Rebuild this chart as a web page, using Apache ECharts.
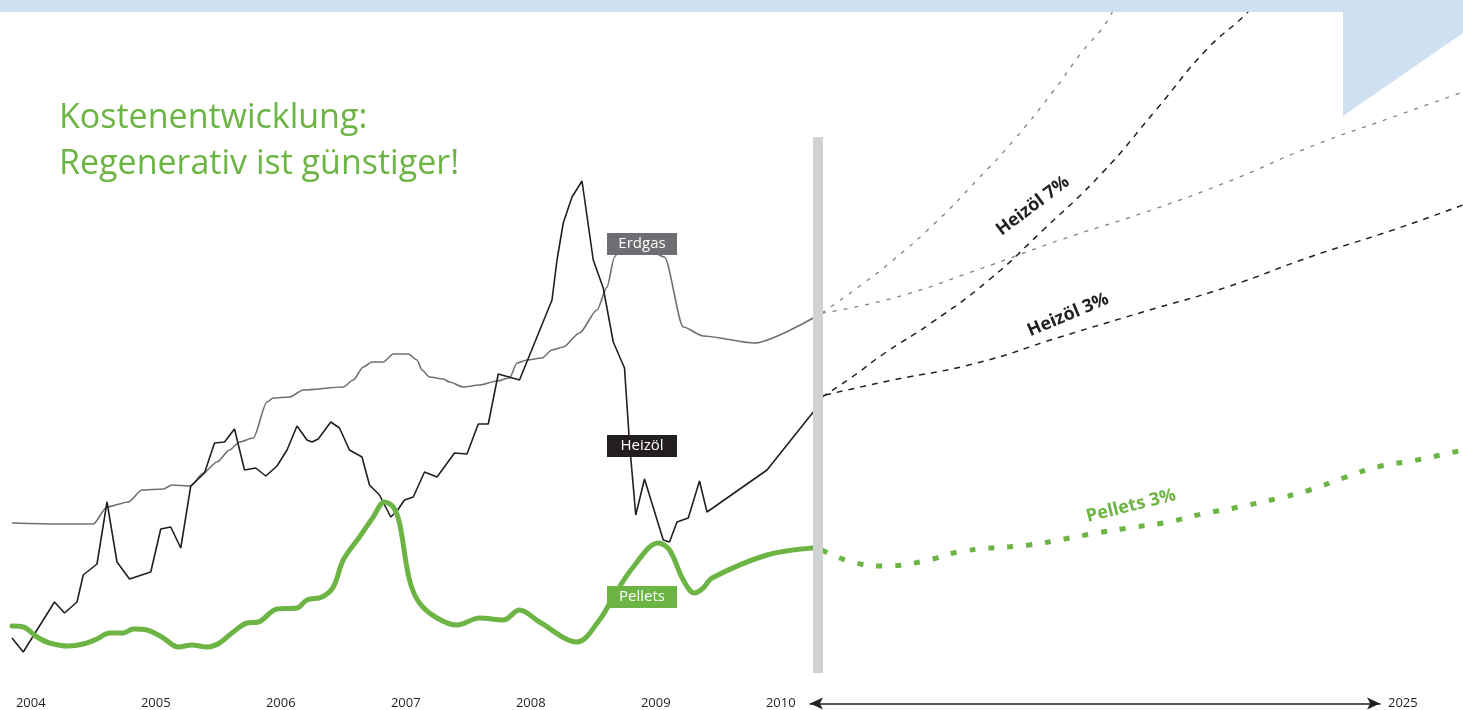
<!DOCTYPE html>
<html>
<head>
<meta charset="utf-8">
<script src="https://cdn.jsdelivr.net/npm/echarts@6/dist/echarts.min.js"></script>
<style>
html,body{margin:0;padding:0;background:#fff;}
#chart{width:1463px;height:710px;}
</style>
</head>
<body>
<div id="chart"></div>
<script>
// ---------- DATA (price index) ----------
const yearTicks = [2004, 2005, 2006, 2007, 2008, 2009, 2010];

const erdgasX = [2003.85,2004.23,2004.50,2004.61,2004.78,2004.89,2005.06,2005.13,2005.28,2005.38,2005.49,2005.59,2005.67,2005.78,2005.89,2005.94,2006.07,2006.18,2006.50,2006.58,2006.66,2006.73,2006.82,2006.90,2007.02,2007.09,2007.13,2007.19,2007.30,2007.35,2007.46,2007.59,2007.73,2007.83,2007.89,2007.97,2008.09,2008.17,2008.26,2008.39,2008.53,2008.61,2008.67,2008.72,2008.87,2009.07,2009.22,2009.38,2009.79,2010.26];
const erdgas  = [33.4,33.2,33.2,36.6,37.6,40,40.2,41,40.8,43.4,45.6,48,49.6,50.4,57.6,58.4,58.6,60,60.6,62,64.6,65.6,65.6,67.2,67.2,66,64,62.6,62.2,61.6,60.6,61,61.8,62.4,65.4,66,66.4,68,68.6,71.4,76,80.6,86.6,88.6,89.4,86.6,72.6,70.8,69.4,74.4];

const heizoelX = [2003.85,2003.94,2004.19,2004.27,2004.37,2004.42,2004.53,2004.61,2004.69,2004.79,2004.96,2005.04,2005.12,2005.20,2005.28,2005.39,2005.47,2005.55,2005.63,2005.71,2005.80,2005.88,2005.97,2006.05,2006.13,2006.21,2006.25,2006.30,2006.40,2006.47,2006.55,2006.65,2006.71,2006.79,2006.88,2006.93,2006.99,2007.06,2007.15,2007.25,2007.39,2007.49,2007.58,2007.66,2007.74,2007.91,2008.17,2008.21,2008.26,2008.33,2008.41,2008.50,2008.58,2008.66,2008.75,2008.79,2008.84,2008.91,2009.06,2009.11,2009.17,2009.26,2009.35,2009.41,2009.89,2010.26];
const heizoel  = [10.4,7.6,17.6,15.4,17.6,23,25.2,37.6,25.6,22.2,23.6,32.2,32.6,28.4,40.8,43.4,49.4,49.6,52.2,44,44.4,42.8,44.8,48,52.8,50,49.6,50.2,53.6,52.4,48,46.6,41,39,34.6,35.8,38,38.6,43.6,42.6,47.4,47.2,53.2,53.2,63.2,62,78,86,93.4,98.6,101.8,86,80.4,69.6,64.4,49.4,35,42.2,30,29.6,33.6,34.4,41.8,35.6,44,55.6];

const pelletsX = [2003.85,2003.94,2004.05,2004.15,2004.30,2004.42,2004.53,2004.63,2004.74,2004.82,2004.93,2005.06,2005.18,2005.29,2005.41,2005.51,2005.62,2005.73,2005.82,2005.97,2006.13,2006.21,2006.33,2006.42,2006.50,2006.63,2006.74,2006.83,2006.90,2006.95,2007.03,2007.11,2007.25,2007.41,2007.59,2007.78,2007.91,2008.07,2008.37,2008.55,2008.66,2008.82,2009.02,2009.11,2009.22,2009.31,2009.38,2009.45,2009.89,2010.26];
const pellets  = [12.8,12.6,10.6,9.4,8.8,9.2,10.2,11.4,11.4,12.2,12,10.4,8.6,9,8.6,9.4,11.6,13.4,13.6,16.2,16.4,18,18.6,20.6,26,30.6,34.6,37.6,36.6,33.4,22,17.4,14.4,13,14.4,14,16,13.6,9.6,14,18.6,24.6,29.4,28,22,19.4,20.4,22.4,27,28.4];

// projections 2010 -> 2025
const heiz7X = [2010.40,2011.16,2011.99,2013.16,2014.62,2015.99,2017.48,2018.84,2020.11,2021.14,2021.37];
const heiz7  = [58.6,62.6,67.4,73.4,82,92,103.4,116,128,135.4,138];
const heiz3X = [2010.48,2012.20,2014.32,2016.42,2018.51,2020.64,2022.73,2024.83,2026.60];
const heiz3  = [59,62,65.4,70.6,75.6,80.6,86.6,92,97];
const gas7X  = [2010.40,2011.46,2012.20,2013.26,2014.32,2015.25,2016.21,2016.95,2017.63,2017.83];
const gas7   = [75.4,81.4,86,93.4,102,110,119.4,127.4,134,138];
const gas3X  = [2010.40,2012.20,2014.32,2016.42,2018.51,2020.64,2022.73,2024.83,2026.60];
const gas3   = [75.4,78.4,84,90,95.4,101.6,108.6,114.6,119.6];
const pel3X  = [2010.40,2011.16,2011.94,2012.88,2013.99,2015.63,2016.52,2017.35,2018.31,2019.15,2020.00,2020.94,2021.85,2022.73,2023.57,2024.53,2025.31,2026.60];
const pel3   = [28,25.6,24.8,25.6,27.8,29,30.2,31.4,32.6,33.6,35.2,36.6,38.2,40,42.4,44.8,45.8,48];

// series name tags (position in data space)
const tagNames = ['Erdgas', 'Heizöl', 'Pellets'];
const tagX = [2008.89, 2008.89, 2008.89];
const tagY = [89.2, 48.8, 18.6];
// projection captions
const projNames = ['Heizöl 7%', 'Heizöl 3%', 'Pellets 3%'];
const projX = [2015.73, 2016.62, 2018.21];
const projY = [96.8, 75, 36.8];
const projAngle = [37, 23, 14];

// ---------- STYLE ----------
const GREEN = '#6cb444', BLACK = '#231f20', GRAY = '#6d6e71', BLUE = '#cfe0f0';
const FONT = '"Open Sans", "Noto Sans", sans-serif';
const zip = (xs, ys) => xs.map((x, i) => [x, ys[i]]);

const chart = echarts.init(document.getElementById('chart'), null, {renderer: 'canvas'});
const yAx = (gi) => ({type: 'value', gridIndex: gi, min: 0, max: 138, show: false});

const option = {
  animation: false,
  backgroundColor: '#fff',
  title: {
    text: 'Kostenentwicklung:\nRegenerativ ist günstiger!',
    left: 54, top: 90,
    textStyle: {color: GREEN, fontSize: 34, lineHeight: 46, fontWeight: 'normal', fontFamily: FONT}
  },
  grid: [
    {left: 12, right: 1463 - 818, top: 0, bottom: 20},
    {left: 818, right: 0, top: 0, bottom: 20},
    {left: 810, right: 83, top: 703, bottom: 6}
  ],
  xAxis: [
    {type: 'value', gridIndex: 0, min: 2003.85, max: 2010.298,
     axisLine: {show: false}, axisTick: {show: false}, splitLine: {show: false},
     axisLabel: {customValues: yearTicks, formatter: v => String(v), color: BLACK, fontSize: 13, fontFamily: FONT, margin: 7}},
    {type: 'value', gridIndex: 1, min: 2010.3, max: 2026.6, show: false},
    {type: 'value', gridIndex: 2, min: 2010, max: 2025, position: 'bottom',
     axisLine: {show: true, lineStyle: {color: BLACK, width: 1.5}, symbol: ['arrow', 'arrow'], symbolSize: [9, 13]},
     axisTick: {show: false}, axisLabel: {show: false}, splitLine: {show: false},
     name: '2025', nameLocation: 'end', nameGap: 8,
     nameTextStyle: {color: BLACK, fontSize: 13, fontFamily: FONT}}
  ],
  yAxis: [yAx(0), yAx(1), yAx(2)],
  series: [
    {name: 'Erdgas', type: 'line', xAxisIndex: 0, yAxisIndex: 0, data: zip(erdgasX, erdgas),
     showSymbol: false, smooth: 0.25, smoothMonotone: 'x', lineStyle: {color: '#707072', width: 1.6}, z: 2},
    {name: 'Heizöl', type: 'line', xAxisIndex: 0, yAxisIndex: 0, data: zip(heizoelX, heizoel),
     showSymbol: false, lineStyle: {color: BLACK, width: 1.6}, z: 3},
    {name: 'Pellets', type: 'line', xAxisIndex: 0, yAxisIndex: 0, data: zip(pelletsX, pellets),
     showSymbol: false, smooth: 0.35, lineStyle: {color: GREEN, width: 5, cap: 'round', join: 'round'}, z: 4},

    {name: 'Erdgas 7%', type: 'line', xAxisIndex: 1, yAxisIndex: 1, data: zip(gas7X, gas7),
     showSymbol: false, smooth: true, lineStyle: {color: '#808082', width: 1.3, type: [4, 7]}},
    {name: 'Erdgas 3%', type: 'line', xAxisIndex: 1, yAxisIndex: 1, data: zip(gas3X, gas3),
     showSymbol: false, smooth: true, lineStyle: {color: '#808082', width: 1.3, type: [4, 7]}},
    {name: 'Heizöl 7%', type: 'line', xAxisIndex: 1, yAxisIndex: 1, data: zip(heiz7X, heiz7),
     showSymbol: false, smooth: true, lineStyle: {color: BLACK, width: 1.5, type: [6, 6]}},
    {name: 'Heizöl 3%', type: 'line', xAxisIndex: 1, yAxisIndex: 1, data: zip(heiz3X, heiz3),
     showSymbol: false, smooth: true, lineStyle: {color: BLACK, width: 1.5, type: [6, 6]}},
    {name: 'Pellets 3%', type: 'line', xAxisIndex: 1, yAxisIndex: 1, data: zip(pel3X, pel3),
     showSymbol: false, smooth: true, lineStyle: {color: GREEN, width: 5, type: [6, 13], cap: 'butt'}},

    {type: 'scatter', xAxisIndex: 0, yAxisIndex: 0, z: 10, symbol: 'rect', symbolSize: [70, 22], silent: true,
     itemStyle: {opacity: 1},
     data: tagNames.map((n, i) => ({value: [tagX[i], tagY[i]], name: n,
       itemStyle: {color: [GRAY, BLACK, GREEN][i], opacity: 1}})),
     label: {show: true, position: 'inside', formatter: p => p.name, color: '#fff', opacity: 1, fontSize: 15, fontFamily: FONT}},
    {type: 'scatter', xAxisIndex: 1, yAxisIndex: 1, z: 10, symbolSize: 0, silent: true,
     itemStyle: {opacity: 1},
     data: projNames.map((n, i) => ({value: [projX[i], projY[i]], name: n,
       label: {rotate: projAngle[i], color: i === 2 ? GREEN : BLACK}})),
     label: {show: true, position: 'inside', formatter: p => p.name, opacity: 1, fontSize: 18, fontWeight: 'bold', fontFamily: FONT}}
  ],
  graphic: [
    {type: 'rect', z: 100, shape: {x: 0, y: 0, width: 1463, height: 12}, style: {fill: BLUE}},
    {type: 'polygon', z: 100, shape: {points: [[1343, 12], [1463, 12], [1463, 33], [1343, 116]]}, style: {fill: BLUE}},
    {type: 'rect', z: 90, shape: {x: 813, y: 137, width: 10, height: 536}, style: {fill: '#d1d2d4'}}
  ]
};
chart.setOption(option);
</script>
</body>
</html>
